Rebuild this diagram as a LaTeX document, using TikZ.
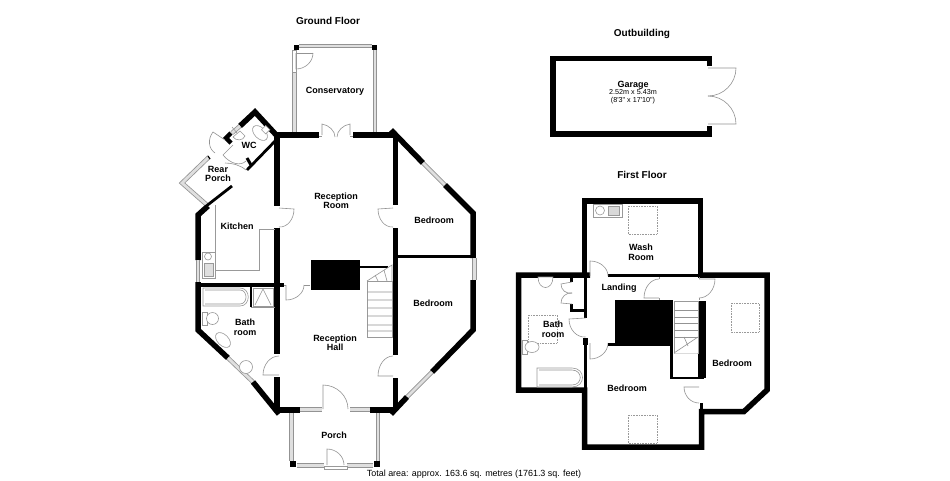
\documentclass[tikz,border=0pt]{standalone}
\usepackage{fontspec}
\setmainfont{Liberation Sans}
\usetikzlibrary{calc}
\newcommand{\doorarc}[3]{\draw[doorline] (#1) -- (#2) .. controls ($(#2)+0.55*($(#3)-(#1)$)$) and ($(#3)+0.55*($(#2)-(#1)$)$) .. (#3);}
\begin{document}
\begin{tikzpicture}
  [x=1pt,y=-1pt,
  wall/.style={draw=black,line width=5.5pt},
  thinwall/.style={draw=black,line width=2.8pt},
  solidblock/.style={fill=black,draw=none},
  windowpane/.style={draw=gray!85,double=gray!25,double distance=2.8pt,line width=0.8pt},
  doorline/.style={draw=gray!85,line width=0.6pt},
  fixture/.style={draw=gray!80,line width=0.6pt,fill=white},
  skylight/.style={draw=gray!80,line width=0.6pt,densely dotted},
  roomlabel/.style={font=\bfseries\fontsize{9}{9.2}\selectfont,align=center,inner sep=0pt,yshift=-0.8pt},
  titlelabel/.style={font=\bfseries\fontsize{10}{10}\selectfont,inner sep=0pt,yshift=-0.8pt}]
  \useasboundingbox (0,0) rectangle (950,480);
  \fill[white] (0,0) rectangle (950,480);

  \fill[solidblock] (294,45) rectangle (299,50);
  \fill[solidblock] (372,45) rectangle (377,50);
  \draw[windowpane] (299,46) -- (372,46);
  \draw[windowpane] (294.5,73) -- (294.5,132);
  \draw[windowpane] (375,50) -- (375,132);
  \draw[fixture] (292,50) rectangle (296,72);
  \doorarc{296,53}{296,69}{313,53}
  \draw[doorline] (296,53) -- (313,53);

  \draw[wall] (277,135) -- (319,135);
  \draw[wall] (353,135) -- (393,135);
  \doorarc{322,135}{322,124}{335,137}
  \doorarc{350,135}{350,124}{337,137}
  \draw[doorline] (319,136) -- (322,136) (350,136) -- (353,136);

  \draw[wall] (277,136) -- (277,206);
  \draw[wall] (277,228) -- (277,354);
  \draw[wall] (277,377) -- (277,410);
  \doorarc{279,208}{294,209}{279,227}
  \doorarc{279,375}{263,375}{279,356}

  \draw[wall] (395.5,134) -- (395.5,205);
  \draw[wall] (395.5,228) -- (395.5,355);
  \draw[wall] (395.5,378) -- (395.5,410);
  \doorarc{393,208}{378,209}{393,227}
  \doorarc{393,376}{378,376}{393,356}

  \draw[wall,line join=miter] (391,130) -- (423,163);
  \draw[windowpane] (423,163) -- (445,185);
  \draw[wall,line join=miter] (445,185) -- (473,213) -- (473,258);
  \draw[windowpane] (474.5,258) -- (474.5,280);
  \draw[wall,line join=miter] (473,280) -- (473,330) -- (432,372);
  \draw[windowpane] (432,372) -- (407,397);
  \draw[wall] (407,397) -- (391,414);
  \draw[thinwall] (396,256.5) -- (473,256.5);

  \draw[wall] (277,410) -- (300,410);
  \draw[wall] (370,410) -- (393,410);
  \draw[windowpane] (300,409.5) -- (322,409.5);
  \draw[windowpane] (350,409.5) -- (370,409.5);
  \doorarc{323,409}{323,385}{348,409}

  \fill[solidblock] (290,461) rectangle (296,467);
  \fill[solidblock] (374,461) rectangle (380,467);
  \draw[windowpane] (291.5,413) -- (291.5,461);
  \draw[windowpane] (378,413) -- (378,461);
  \draw[windowpane] (297,465.5) -- (324,465.5);
  \draw[windowpane] (347,465.5) -- (373,465.5);
  \draw[fixture] (324,466) rectangle (347,469);
  \doorarc{327,465}{327,449}{344,465}

  \draw[wall,line join=miter] (208,206) -- (198,215) -- (198,260);
  \draw[windowpane] (198,260) -- (198,282);
  \draw[wall,line join=miter] (198,282) -- (198,330) -- (228,358);
  \draw[windowpane] (228,358) -- (253,382);
  \draw[wall] (253,382) -- (279,414);
  \draw[windowpane,line join=miter] (209,157) -- (182,183) -- (207,205);
  \draw[draw=black,line width=1.2pt] (208,156) -- (210,159);
  \draw[thinwall] (205,207) -- (232,186);
  \draw[thinwall] (247,170) -- (279,137);
  \draw[wall,line join=miter] (279,138) -- (255,112) -- (240,126);
  \draw[windowpane] (240,126) -- (232,133);
  \draw[wall,line width=4.5pt] (231,133) -- (226,138) -- (231,143);
  \draw[draw=black,line width=3pt] (247,158) -- (251,165);
  \doorarc{225,140}{213,132}{215,153}
  \doorarc{233,145}{223,155}{246,161}
  \draw[doorline] (225,163) .. controls (232,163) and (240,165) .. (246,170);
  \draw[fixture] (232,127) -- (237,133);
  \draw[fixture] (240,131) -- (245,136) .. controls (243,141) and (236,141) .. (233,137) -- cycle;
  \draw[fixture,rotate around={-45:(260,133)}] (260,133) ellipse (9 and 5.5);
  \draw[fixture,rotate around={-45:(265,129)}] (263,126) rectangle (269,132);

  \draw[wall,line width=3.2pt] (198,285) -- (284,285);
  \doorarc{286,285}{286,300}{304,285}
  \draw[doorline] (284,285) -- (286,285) (304,285) -- (310,285);
  \fill[solidblock] (310.5,259.5) rectangle (359.5,289.5);
  \draw[thinwall] (359,267) -- (388,267);

  \draw[fixture,fill=none] (215,205) -- (215,270) -- (259,270) -- (259,229) -- (275,229);
  \draw[fixture] (202,252) rectangle (215,278);
  \draw[fixture] (208,256.5) circle (3.5);
  \draw[fixture,fill=gray!25] (204,263) rectangle (213,276);
  \draw[windowpane] (198,260) -- (198,282);
  \draw[thinwall] (251,286) -- (251,307);
  \draw[doorline] (251,307.5) -- (275,307.5);
  \draw[fixture] (203,288) -- (240,288) .. controls (251,288) and (251,306) .. (240,306) -- (203,306) -- cycle;
  \draw[doorline] (205,290) -- (240,290) .. controls (248,290) and (248,304) .. (240,304) -- (205,304);
  \draw[fixture] (253,288) rectangle (273,306);
  \draw[doorline] (255,305) -- (263,289) -- (271,305);
  \draw[fixture] (202,312) rectangle (207,325);
  \draw[fixture] (212.5,318.5) ellipse (6 and 6);
  \draw[fixture,rotate around={-45:(223,340)}] (223,340) ellipse (9 and 5.5);
  \draw[fixture] (246,367) circle (6.5);

  \draw[fixture] (367,281) rectangle (392,337);
  \draw[doorline] (367,281) -- (392,265) -- (392,281);
  \draw[doorline] (367,292) -- (392,292) (367,300) -- (392,300) (367,308) -- (392,308)
    (367,316) -- (392,316) (367,325) -- (392,325) (367,331) -- (392,331)
    (375,275) -- (378,281) (384,270) -- (387,281);

  \draw[wall,line join=miter] (709.5,66) -- (709.5,58.5) -- (553,58.5) -- (553,134) -- (709.5,134) -- (709.5,126);
  \doorarc{708,68}{736,68}{708,96}
  \doorarc{708,124}{736,124}{708,96}

  \draw[wall,line join=miter] (584.5,275) -- (584.5,201) -- (700.5,201) -- (700.5,275);
  \draw[thinwall,line width=2.2pt] (608,275.5) -- (700,275.5);
  \draw[wall,line join=miter] (590,275) -- (518.5,275) -- (518.5,390) -- (584.5,390) -- (584.5,447) -- (701.5,447) -- (701.5,411.5) -- (744,411.5) -- (767,390) -- (767,275) -- (698,275);
  \draw[wall,line width=3pt] (701,403) -- (701,411);
  \draw[thinwall,line width=3pt] (585,275) -- (585,318);
  \draw[thinwall,line width=3pt] (585,344) -- (585,390);
  \fill[solidblock] (570,304) rectangle (572.5,311);
  \fill[solidblock] (570,309) rectangle (585,311.5);
  \fill[solidblock] (570,276) rectangle (572.5,282);
  \fill[solidblock] (583,338) rectangle (588,345);
  \doorarc{572,282}{561,284}{572,293}
  \doorarc{572,304}{561,303}{572,293}
  \doorarc{585.5,318}{569,319}{585.5,337}
  \doorarc{590,343}{590,359}{608,343}
  \doorarc{590,276}{590,261}{608,276}

  \fill[solidblock] (615,300) rectangle (671.5,344);
  \draw[thinwall] (608,344.5) -- (671.5,344.5);
  \draw[thinwall] (671.5,300) -- (671.5,378) -- (704,378);
  \fill[solidblock] (698,301) rectangle (706,378);
  \draw[fixture] (674,301.5) rectangle (698,353);
  \draw[doorline] (674,310) -- (698,310) (674,317) -- (698,317) (674,323) -- (698,323)
    (674,330) -- (698,330) (674,337) -- (698,337);
  \fill[white,draw=none] (674.4,353.5) -- (697.6,338) -- (697.6,353.5) -- cycle;
  \draw[doorline] (674,353) -- (698,337) (684,337) -- (688,346);

  \doorarc{659,298}{644,298}{659,279}
  \doorarc{699,279}{715,279}{699,298}
  \doorarc{699,387}{684,387}{699,403}
  \draw[doorline] (659,277) -- (659,279) (659,298) -- (659,300) (699,277) -- (699,279) (699,298) -- (699,300);

  \draw[skylight] (628,206) rectangle (657,234);
  \draw[skylight] (731,303) rectangle (759,332);
  \draw[skylight] (628,415) rectangle (657,443);
  \draw[skylight] (528,315) rectangle (557,343);

  \draw[fixture] (593,204) rectangle (622,217);
  \draw[fixture] (600,210.5) circle (4.5);
  \draw[fixture,fill=gray!30] (608,206) rectangle (619,215);
  \draw[fixture] (537,368) -- (572,368) .. controls (586,368) and (586,387) .. (572,387) -- (537,387) -- cycle;
  \draw[doorline] (539,370) -- (572,370) .. controls (583,370) and (583,385) .. (572,385) -- (539,385);
  \draw[fixture] (522,340) rectangle (527,354);
  \draw[fixture] (532,347) ellipse (7 and 5.5);
  \draw[fixture] (538,277) -- (553,277) .. controls (553,291) and (538,291) .. (538,277) -- cycle;

  \node[titlelabel] (groundfloor) at (328,20) {Ground Floor};
  \node[titlelabel] (outbuilding) at (642,33) {Outbuilding};
  \node[titlelabel] (firstfloor) at (642,174) {First Floor};
  \node[roomlabel] (conservatory) at (335,90) {Conservatory};
  \node[roomlabel] (wc) at (249,144.5) {WC};
  \node[roomlabel] (rearporch) at (218,173) {Rear\\Porch};
  \node[roomlabel] (receptionroom) at (336,200) {Reception\\Room};
  \node[roomlabel] (bedroomone) at (434,219) {Bedroom};
  \node[roomlabel] (kitchen) at (237,225) {Kitchen};
  \node[roomlabel] (bedroomtwo) at (433,302) {Bedroom};
  \node[roomlabel] (bathone) at (245,326.5) {Bath\\room};
  \node[roomlabel] (receptionhall) at (335,342) {Reception\\Hall};
  \node[roomlabel] (porch) at (334,434) {Porch};
  \node[roomlabel] (washroom) at (641,251.5) {Wash\\Room};
  \node[roomlabel] (landing) at (619,287) {Landing};
  \node[roomlabel] (bathtwo) at (553,328.5) {Bath\\room};
  \node[roomlabel] (bedroomthree) at (627,387) {Bedroom};
  \node[roomlabel] (bedroomfour) at (732,362) {Bedroom};
  \node[roomlabel] (garage) at (633,85) {Garage};
  \node[font=\fontsize{7.2}{7.5}\selectfont,align=center,inner sep=0pt] (garagesize) at (633,96.5) {2.52m x 5.43m\\(8\textquotesingle3\textquotedbl\ x 17\textquotesingle10\textquotedbl)};
  \node[font=\fontsize{8.95}{10}\selectfont,inner sep=0pt,yshift=-0.8pt] (totalarea) at (474,473) {Total area: approx. 163.6 sq. metres (1761.3 sq. feet)};
\end{tikzpicture}
\end{document}
